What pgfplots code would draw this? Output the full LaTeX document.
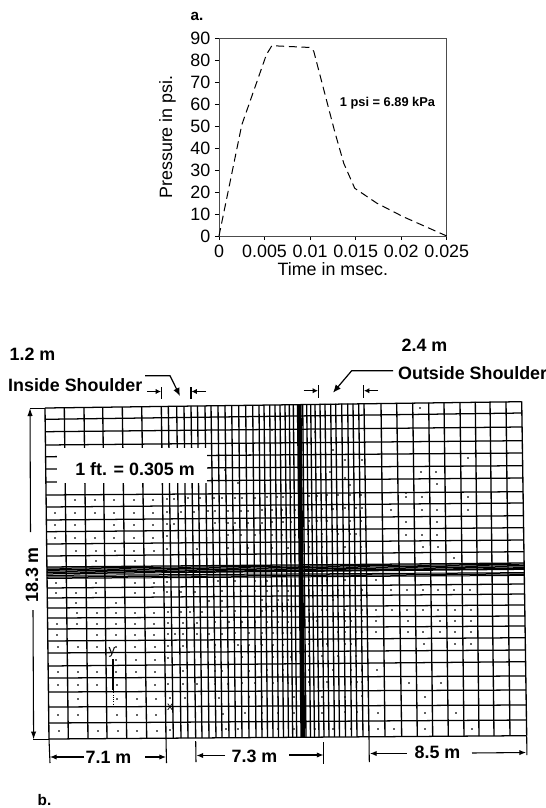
\documentclass[border=0pt]{standalone}
\usepackage{fontspec}
\setmainfont{Liberation Sans}
\usepackage{pgfplots}
\pgfplotsset{compat=1.18}
\usetikzlibrary{arrows.meta}
\newcommand{\lab}{\fontsize{13.4}{15}\selectfont}
\newcommand{\blab}{\fontsize{13.4}{15}\selectfont\bfseries}
\begin{document}
\begin{tikzpicture}
\path[use as bounding box] (0,0) rectangle (409.5pt,606pt);
\begin{axis}[at={(0pt,0pt)},anchor=south west,scale only axis,width=409.5pt,height=606pt,
  xmin=0,xmax=546,ymin=0,ymax=808,y dir=reverse,hide axis,clip=false,unbounded coords=jump]
% vertical mesh lines
\addplot[black,line width=1pt,no markers] coordinates {
(45,408)(49,739)(nan,nan)(64.3,407.7)(68.3,738.9)(nan,nan)(84,407.5)(88,738.7)(nan,nan)
(102.7,407.2)(107,738.6)(nan,nan)(122.3,407)(126.7,738.5)(nan,nan)(141.7,406.7)(146.7,738.3)(nan,nan)
(161.3,406.4)(166,738.2)(nan,nan)(168.3,406.3)(173.3,738.1)(nan,nan)(176.7,406.2)(181,738)(nan,nan)
(184,406.1)(188,738)(nan,nan)(191,406)(195.7,737.9)(nan,nan)(197.5,405.9)(202,737.9)(nan,nan)
(205,405.8)(209,737.9)(nan,nan)(211,405.7)(216,737.8)(nan,nan)(218,405.6)(222,737.8)(nan,nan)
(225,405.5)(229,737.8)(nan,nan)(231.7,405.4)(235.5,737.7)(nan,nan)(238.7,405.4)(242,737.7)(nan,nan)
(245.7,405.3)(249,737.6)(nan,nan)(252.7,405.2)(256,737.6)(nan,nan)(259,405.1)(262,737.5)(nan,nan)
(264,405)(267.5,737.5)(nan,nan)(269.7,405)(273,737.5)(nan,nan)(275,404.9)(278.5,737.4)(nan,nan)
(280,404.8)(283.5,737.4)(nan,nan)(285,404.7)(288.5,737.3)(nan,nan)(289.3,404.7)(292.7,737.3)(nan,nan)
(293.3,404.6)(296.7,737.3)(nan,nan)
(302.7,404.3)(306,737)(nan,nan)(306.7,404.2)(310.5,737)(nan,nan)(310.7,404.1)(314.5,737)(nan,nan)
(315,404)(319,736.9)(nan,nan)(320,403.9)(324,736.9)(nan,nan)(325,403.9)(329,736.9)(nan,nan)
(330.7,403.8)(334.5,736.8)(nan,nan)(335.7,403.7)(339.5,736.8)(nan,nan)(341.7,403.6)(345.5,736.8)(nan,nan)
(347.7,403.5)(351.5,736.7)(nan,nan)(353,403.5)(357,736.7)(nan,nan)(358.7,403.4)(363,736.7)(nan,nan)
(364,403.3)(369,736.6)(nan,nan)(381,403.1)(385,736.5)(nan,nan)(396.7,402.9)(401.7,736.4)(nan,nan)
(412.7,402.7)(417.3,736.3)(nan,nan)(428.7,402.5)(432.7,736.2)(nan,nan)(444,402.3)(448.3,736.1)(nan,nan)
(460,402.1)(464,736)(nan,nan)(475.3,401.9)(479,736)(nan,nan)(490,401.7)(494,735.9)(nan,nan)
(506,401.6)(510,735.8)(nan,nan)(521.7,401.4)(526.7,735.7)
};
% thick centre
\addplot[black,line width=3.6pt,no markers] coordinates {(299.2,404.4)(302.8,737.2)};
% horizontal mesh lines
\addplot[black,line width=0.95pt,no markers] coordinates {
(45,408)(521.7,401.7)(nan,nan)(45,419.3)(522,413)(nan,nan)(45.2,431.7)(522,427)(nan,nan)
(45.3,445)(522,440.7)(nan,nan)(45.4,456.7)(522.5,453)(nan,nan)(45.5,469)(522.5,465.7)(nan,nan)
(45.6,482)(523,478)(nan,nan)(45.8,495)(523,491.7)(nan,nan)(46,507)(523.2,503)(nan,nan)
(46,520)(523.4,515.7)(nan,nan)(46.2,531.7)(523.5,527.7)(nan,nan)(46.3,544)(523.7,540)(nan,nan)
(46.5,556)(523.8,551.7)(nan,nan)(46.6,567)(524,563)(nan,nan)
(46.8,588)(524.5,584)(nan,nan)(47,598)(524.7,594)(nan,nan)(47.1,608)(524.8,605)(nan,nan)
(47.2,618)(525,616)(nan,nan)(47.3,629)(525,626)(nan,nan)(47.5,641)(525.2,637.7)(nan,nan)
(47.7,653)(525.4,650)(nan,nan)(47.8,666)(525.6,661.7)(nan,nan)(48,678)(525.8,676)(nan,nan)
(48.2,692)(526,690)(nan,nan)(48.4,707)(526.2,705)(nan,nan)(48.6,723)(526.5,720)(nan,nan)
(49,739)(526.7,735.7)
};
% dense band
\addplot[black,line width=0.75pt,no markers] coordinates {
(46.6,568.2)(524,564.2)(nan,nan)(46.6,569.6)(524,565.6)(nan,nan)(46.6,571)(524,567)(nan,nan)
(46.7,572.4)(524,568.4)(nan,nan)(46.7,573.8)(524,569.4)(nan,nan)(46.7,575.4)(524.2,572.6)(nan,nan)
(46.8,577)(524.2,574)(nan,nan)(46.8,578.4)(524.2,575.4)
};
% white box of the note
\fill[white] (axis cs:57,447.5) rectangle (axis cs:207,483);
% nodal dots
\addplot[only marks,mark=*,mark size=0.42pt,black] coordinates {
(75,500)(95,500)(114,500)(134,500)(153,500)(167,499)(174,499)(188,498)(200,498)(214,498)(222,498)(235,498)(242,498)(255,498)(267,497)(277,497)(283,497)(291,497)(309,496)(317,496)(327,495)(338,495)(350,495)(361,495)(406,493)
(55,513)(75,513)(95,513)(114,513)(134,513)(153,513)(167,512)(181,512)(194,512)(208,511)(215,511)(228,511)(241,511)(248,511)(262,510)(272,510)(282,510)(295,510)(308,509)(322,509)(333,509)(345,508)(356,508)(362,508)(391,510)(422,510)(437,510)(468,510)
(55,525)(75,525)(114,525)(134,525)(153,525)(167,524)(174,524)(215,523)(228,523)(235,523)(248,523)(262,523)(272,522)(283,522)(291,522)(309,521)(317,521)(327,521)(350,521)(361,521)(406,522)(437,522)
(55,538)(75,538)(95,538)(114,538)(134,538)(153,538)(167,536)(228,535)(241,535)(255,535)(272,535)(282,535)(295,535)(308,534)(322,534)(338,534)(350,534)(356,534)(406,535)(422,535)(437,535)
(76,551)(96,551)(115,551)(134,551)(154,551)(167,549)(197,549)(228,548)(248,548)(272,548)(288,548)(309,547)(322,547)(345,547)(361,547)(423,547)(438,547)
(96,561)(135,561)(454,558)
(56,583)(96,583)(135,583)(154,583)(167,582)(218,581)(235,581)(255,581)(267,581)(282,581)(309,580)(327,580)(345,580)(376,580)
(56,593)(76,593)(96,593)(135,593)(154,593)(167,592)(181,592)(195,592)(222,591)(241,591)(255,591)(267,591)(278,591)(288,591)(309,590)(322,590)(338,590)(350,590)(362,590)(391,590)(407,590)(423,590)(438,590)(454,590)(470,590)
(76,603)(116,603)(209,601)(222,601)(262,600)(278,600)(288,600)(333,600)(361,600)
(77,613)(97,613)(116,613)(135,613)(154,613)(168,612)(181,612)(190,612)(202,612)(222,611)(235,611)(248,611)(262,611)(273,611)(283,611)(291,611)(309,610)(322,610)(327,610)(345,610)(356,610)(362,610)(376,610)(392,610)(407,610)(423,610)(438,610)(455,610)(471,610)
(57,624)(77,624)(97,624)(116,624)(135,624)(154,624)(168,623)(183,623)(197,623)(215,622)(229,622)(242,622)(255,622)(267,622)(278,622)(288,622)(309,621)(317,621)(333,621)(345,621)(351,621)(362,621)(376,621)(408,621)(440,621)(455,621)(471,621)
(57,635)(97,635)(116,635)(135,635)(154,635)(168,634)(175,634)(183,634)(197,634)(209,634)(222,634)(235,633)(249,633)(262,633)(273,633)(283,633)(291,633)(309,632)(322,632)(338,632)(345,632)(356,632)(362,632)(376,632)(408,632)(423,632)(440,632)(455,632)(471,632)
(58,647)(78,647)(97,647)(116,647)(135,647)(155,647)(168,646)(183,646)(215,645)(238,645)(249,645)(262,645)(273,645)(283,645)(309,644)(327,644)(345,644)(351,644)(424,644)(455,644)(471,644)
(116,660)(136,660)(155,660)(168,658)(215,657)(242,657)(255,657)(273,657)(283,657)(291,657)(309,656)(322,656)(338,656)(356,656)
(58,672)(78,672)(97,672)(116,672)(136,672)(155,672)(183,671)(215,671)(222,671)(249,671)(267,670)(283,670)(309,670)(333,670)(351,670)(362,670)(377,670)
(58,685)(78,685)(97,685)(117,685)(155,685)(168,684)(183,684)(197,684)(215,684)(228,684)(242,683)(255,683)(273,683)(288,683)(309,682)(327,682)(351,682)(357,682)(362,682)(409,683)(441,683)
(78,699)(117,699)(137,699)(156,699)(170,698)(185,698)(219,698)(249,697)(262,697)(278,697)(294,697)(322,697)(345,697)(362,696)(425,697)
(58,715)(78,715)(117,715)(137,715)(156,715)(223,714)(245,713)(262,713)(278,713)(294,713)(322,713)(345,712)(357,712)(378,713)(425,713)(456,713)
(59,731)(98,731)(118,731)(137,731)(157,731)(170,730)(226,729)(238,729)(262,729)(278,729)(294,729)(315,729)(333,729)(351,729)(378,729)(394,729)(425,729)(472,729)
(420,408)(468,458)(421,472)(436,472)(437,484)(406,497)(422,497)(468,497)(345,460)(362,460)(330,472)(350,485)(272,430)(290,442)(250,455)(225,470)(238,483)(315,432)(333,450)(345,478)
};
% labels of mesh
\node[anchor=west] at (axis cs:5,354) {\blab 1.2 m};
\node[anchor=west] at (axis cs:3.5,385) {\blab Inside Shoulder};
\node[anchor=center] at (axis cs:424.5,345) {\blab 2.4 m};
\node[anchor=west] at (axis cs:393.5,373) {\blab Outside Shoulder};
\node at (axis cs:135,469) {\blab 1 ft. = 0.305 m};
\node[rotate=90] at (axis cs:32,575) {\blab 18.3 m};
\node at (axis cs:108.5,757) {\blab 7.1 m};
\node at (axis cs:254.5,756) {\blab 7.3 m};
\node at (axis cs:437.5,752) {\blab 8.5 m};
\node[anchor=west] at (axis cs:33,800) {\fontsize{11.5}{13}\selectfont\bfseries b.};
\node[anchor=west] at (axis cs:186,16.5) {\fontsize{11.5}{13}\selectfont\bfseries a.};
% shoulder arrows
\draw[line width=0.9pt,-{Latex[length=6pt,width=5pt]}] (axis cs:145,375.7)--(axis cs:170,375.7)--(axis cs:180,396);
\draw[line width=0.9pt,-{Latex[length=6pt,width=5pt]}] (axis cs:393,370.7)--(axis cs:351.7,370.7)--(axis cs:333,392.7);
\draw[line width=0.8pt,-{Latex[length=4pt,width=4pt]}] (axis cs:147,391.5)--(axis cs:161,391.5);
\draw[line width=0.9pt] (axis cs:161.5,387)--(axis cs:161.5,399);
\draw[line width=0.8pt,-{Latex[length=4pt,width=4pt]}] (axis cs:206,391.5)--(axis cs:191.5,391.5);
\draw[line width=0.9pt] (axis cs:191,387)--(axis cs:191,399);
\draw[line width=0.8pt,-{Latex[length=4pt,width=4pt]}] (axis cs:303.5,390.7)--(axis cs:318,390.7);
\draw[line width=0.9pt] (axis cs:318.5,385)--(axis cs:318.5,398);
\draw[line width=0.8pt,-{Latex[length=4pt,width=4pt]}] (axis cs:378,390.7)--(axis cs:364,390.7);
\draw[line width=0.9pt] (axis cs:363.5,385)--(axis cs:363.5,398);
% height dimension
\draw[line width=0.8pt,-{Latex[length=6pt,width=4pt]}] (axis cs:30.5,532)--(axis cs:30,408);
\draw[line width=0.8pt,-{Latex[length=6pt,width=4pt]}] (axis cs:33,610)--(axis cs:33.6,739.5);
\draw[line width=0.6pt] (axis cs:30,408)--(axis cs:45,408);
\draw[line width=0.6pt] (axis cs:33,739.5)--(axis cs:49,739.5);
% width dimensions
\draw[line width=0.8pt] (axis cs:49,739)--(axis cs:50,763);
\draw[line width=0.8pt,-{Latex[length=5pt,width=4pt]}] (axis cs:84,757)--(axis cs:50,757);
\draw[line width=0.8pt,-{Latex[length=5pt,width=4pt]}] (axis cs:145,757)--(axis cs:166,757);
\draw[line width=0.8pt] (axis cs:166,738)--(axis cs:166.5,763);
\draw[line width=0.8pt] (axis cs:195.7,741)--(axis cs:196,762);
\draw[line width=0.8pt,-{Latex[length=5pt,width=4pt]}] (axis cs:225,755.5)--(axis cs:196.5,755.5);
\draw[line width=0.8pt,-{Latex[length=5pt,width=4pt]}] (axis cs:289,755)--(axis cs:323.5,755);
\draw[line width=0.8pt] (axis cs:323.7,742)--(axis cs:323.7,764);
\draw[line width=0.8pt] (axis cs:369,737)--(axis cs:369.3,762);
\draw[line width=0.8pt,-{Latex[length=5pt,width=4pt]}] (axis cs:406.7,753.5)--(axis cs:370,753.5);
\draw[line width=0.8pt,-{Latex[length=5pt,width=4pt]}] (axis cs:472,753)--(axis cs:526,752.5);
\draw[line width=0.8pt] (axis cs:526.7,736)--(axis cs:526.9,755);
% local axes
\draw[line width=0.8pt] (axis cs:113,659)--(axis cs:113,690);
\draw[line width=0.7pt,densely dotted] (axis cs:113,690)--(axis cs:113,707);
\node[inner sep=0pt] at (axis cs:112,652) {\fontsize{10}{11}\selectfont y};
\node[inner sep=0pt] at (axis cs:170,707) {\fontsize{9}{10}\selectfont x};
\end{axis}
\begin{axis}[at={(164.25pt,429pt)},anchor=south west,scale only axis,width=170.8pt,height=148.5pt,
  xmin=0,xmax=0.025,ymin=0,ymax=90,
  axis line style={line width=0.5pt,black!70},
  tick style={black,line width=0.6pt},tick align=outside,major tick length=3pt,
  tick pos=left,
  scaled x ticks=false,
  xtick={0,0.005,0.01,0.015,0.02,0.025},xticklabels={0,0.005,0.01,0.015,0.02,0.025},
  ytick={0,10,...,90},
  ticklabel style={font=\lab},
  /pgf/number format/assume math mode=true,
  xlabel={\lab Time in msec.},ylabel={\lab Pressure in psi.},
  xlabel style={yshift=3pt},ylabel style={yshift=4pt},
  clip=false]
\addplot[black,line width=0.75pt,dash pattern=on 6pt off 3.5pt,no markers] coordinates {
(0,0)(0.0025,50.5)(0.0052,82.4)(0.0058,86.5)(0.0100,85.7)(0.0104,84)(0.0127,47.5)(0.0137,33)(0.0149,21.7)(0.0173,15)(0.0202,8.8)(0.025,0)
};
\node[anchor=west,inner sep=0pt] at (axis cs:0.01325,60.5) {\fontsize{9.6}{11}\selectfont\bfseries 1 psi = 6.89 kPa};
\end{axis}
\end{tikzpicture}
\end{document}
